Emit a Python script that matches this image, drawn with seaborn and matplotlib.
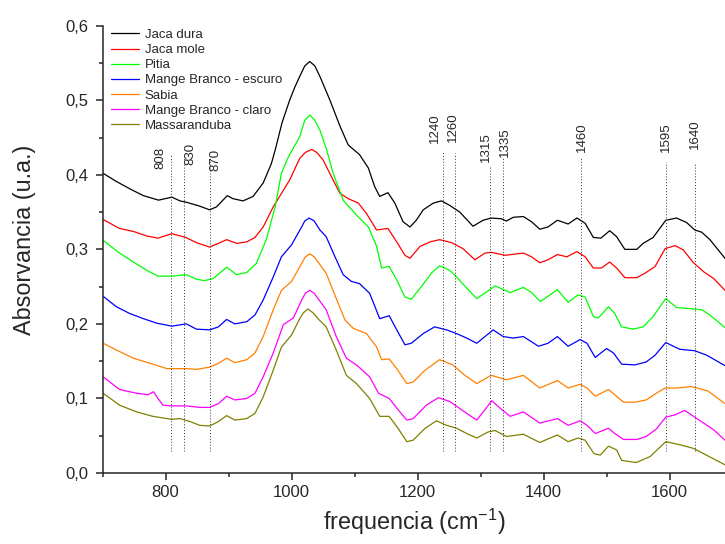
import numpy as np
import pandas as pd
import matplotlib
matplotlib.use("Agg")
import matplotlib.pyplot as plt
from matplotlib.ticker import MultipleLocator, FuncFormatter
import seaborn as sns

# espectros (numero de onda em cm-1, absorvancia)
jaca_dura_x = [701, 722, 746, 765, 789, 810, 823, 834, 854, 870, 881, 898, 907, 923, 939, 955, 968, 974,
               985, 997, 1005, 1013, 1021, 1029, 1037, 1045, 1061, 1077, 1090, 1108, 1122, 1132, 1140, 1153,
               1164, 1177, 1188, 1198, 1209, 1225, 1238, 1251, 1267, 1288, 1304, 1317, 1333, 1341, 1352,
               1368, 1381, 1394, 1407, 1422, 1439, 1453, 1466, 1479, 1491, 1505, 1516, 1529, 1548, 1558,
               1574, 1594, 1611, 1627, 1640, 1651, 1664, 1688]
jaca_dura_y = [0.402, 0.391, 0.380, 0.372, 0.366, 0.370, 0.365, 0.363, 0.358, 0.353, 0.357, 0.372, 0.368,
               0.365, 0.371, 0.389, 0.415, 0.433, 0.470, 0.500, 0.517, 0.532, 0.546, 0.552, 0.546, 0.532,
               0.500, 0.465, 0.440, 0.427, 0.409, 0.384, 0.371, 0.376, 0.362, 0.337, 0.330, 0.339, 0.353,
               0.362, 0.365, 0.359, 0.350, 0.331, 0.339, 0.342, 0.341, 0.338, 0.343, 0.344, 0.337, 0.327,
               0.330, 0.339, 0.334, 0.342, 0.335, 0.316, 0.315, 0.325, 0.317, 0.300, 0.300, 0.308, 0.316,
               0.339, 0.342, 0.336, 0.326, 0.323, 0.313, 0.288]

jaca_mole_x = [701, 727, 749, 770, 788, 810, 832, 849, 870, 884, 897, 913, 929, 942, 955, 971, 997,
               1013, 1022, 1032, 1040, 1050, 1066, 1077, 1090, 1106, 1119, 1135, 1153, 1167, 1180, 1188,
               1204, 1220, 1235, 1254, 1272, 1291, 1307, 1317, 1339, 1368, 1381, 1394, 1407, 1422, 1437,
               1453, 1466, 1479, 1492, 1505, 1516, 1529, 1548, 1561, 1577, 1593, 1609, 1622, 1638, 1654,
               1670, 1688]
jaca_mole_y = [0.340, 0.328, 0.324, 0.318, 0.315, 0.321, 0.316, 0.309, 0.303, 0.308, 0.313, 0.308, 0.310,
               0.316, 0.330, 0.357, 0.393, 0.422, 0.430, 0.434, 0.430, 0.420, 0.393, 0.375, 0.368, 0.362,
               0.348, 0.326, 0.328, 0.310, 0.292, 0.288, 0.304, 0.310, 0.313, 0.309, 0.301, 0.286, 0.295,
               0.296, 0.292, 0.295, 0.290, 0.282, 0.286, 0.293, 0.290, 0.297, 0.290, 0.275, 0.275, 0.283,
               0.275, 0.262, 0.262, 0.268, 0.277, 0.301, 0.305, 0.299, 0.282, 0.270, 0.261, 0.245]

pitia_x = [701, 727, 749, 770, 788, 810, 833, 849, 862, 876, 897, 913, 929, 944, 960, 974, 984, 995,
           1013, 1021, 1029, 1037, 1045, 1056, 1066, 1082, 1103, 1122, 1135, 1143, 1155, 1167, 1180, 1190,
           1206, 1222, 1235, 1251, 1262, 1278, 1294, 1310, 1323, 1347, 1368, 1381, 1395, 1407, 1422,
           1439, 1455, 1466, 1479, 1487, 1503, 1513, 1524, 1542, 1558, 1574, 1594, 1611, 1638, 1651,
           1664, 1688]
pitia_y = [0.312, 0.295, 0.283, 0.272, 0.264, 0.264, 0.266, 0.260, 0.258, 0.261, 0.276, 0.266, 0.269,
           0.281, 0.313, 0.357, 0.402, 0.424, 0.451, 0.473, 0.480, 0.473, 0.460, 0.433, 0.402, 0.366,
           0.346, 0.330, 0.304, 0.275, 0.277, 0.259, 0.236, 0.233, 0.250, 0.268, 0.278, 0.272, 0.263,
           0.248, 0.234, 0.243, 0.251, 0.242, 0.249, 0.242, 0.230, 0.237, 0.246, 0.229, 0.239, 0.236,
           0.210, 0.208, 0.223, 0.214, 0.196, 0.193, 0.196, 0.210, 0.234, 0.222, 0.220, 0.219, 0.212,
           0.195]

mb_escuro_x = [701, 722, 743, 765, 786, 810, 833, 849, 870, 884, 897, 910, 929, 942, 955, 971, 984, 1000,
               1016, 1021, 1028, 1036, 1045, 1055, 1069, 1082, 1095, 1108, 1124, 1140, 1155, 1167, 1180,
               1190, 1209, 1227, 1246, 1262, 1278, 1294, 1320, 1336, 1352, 1368, 1392, 1407, 1422, 1439,
               1458, 1469, 1482, 1500, 1511, 1524, 1545, 1563, 1577, 1594, 1616, 1640, 1659, 1688]
mb_escuro_y = [0.237, 0.223, 0.214, 0.207, 0.201, 0.197, 0.200, 0.193, 0.192, 0.196, 0.206, 0.200, 0.203,
               0.212, 0.232, 0.263, 0.290, 0.306, 0.330, 0.338, 0.342, 0.338, 0.326, 0.317, 0.290, 0.266,
               0.257, 0.254, 0.241, 0.207, 0.211, 0.192, 0.172, 0.174, 0.187, 0.196, 0.192, 0.187, 0.181,
               0.174, 0.192, 0.183, 0.181, 0.183, 0.170, 0.174, 0.183, 0.170, 0.179, 0.174, 0.155, 0.167,
               0.161, 0.146, 0.145, 0.149, 0.158, 0.175, 0.166, 0.164, 0.158, 0.144]

sabia_x = [701, 722, 749, 780, 802, 833, 849, 870, 884, 897, 910, 929, 942, 955, 971, 984, 1000, 1016,
           1022, 1029, 1036, 1042, 1055, 1071, 1085, 1098, 1119, 1135, 1143, 1155, 1167, 1183, 1193,
           1212, 1235, 1256, 1275, 1294, 1317, 1341, 1368, 1394, 1422, 1439, 1458, 1469, 1482, 1503,
           1513, 1527, 1545, 1563, 1579, 1593, 1611, 1635, 1661, 1688]
sabia_y = [0.174, 0.165, 0.154, 0.146, 0.140, 0.140, 0.139, 0.142, 0.147, 0.154, 0.148, 0.152, 0.161,
           0.183, 0.219, 0.245, 0.257, 0.281, 0.290, 0.294, 0.290, 0.283, 0.268, 0.234, 0.205, 0.194,
           0.187, 0.169, 0.152, 0.153, 0.140, 0.120, 0.122, 0.138, 0.152, 0.145, 0.131, 0.120, 0.131,
           0.125, 0.131, 0.114, 0.124, 0.114, 0.119, 0.114, 0.103, 0.112, 0.105, 0.095, 0.095, 0.098,
           0.107, 0.114, 0.114, 0.116, 0.110, 0.093]

mb_claro_x = [701, 727, 754, 772, 781, 788, 796, 810, 833, 854, 870, 884, 897, 910, 929, 942, 955, 971,
              987, 1003, 1016, 1022, 1029, 1036, 1042, 1055, 1071, 1087, 1103, 1124, 1138, 1155, 1169,
              1183, 1193, 1214, 1233, 1251, 1278, 1294, 1307, 1318, 1331, 1347, 1368, 1394, 1422, 1439,
              1458, 1469, 1482, 1503, 1513, 1527, 1548, 1563, 1579, 1594, 1609, 1624, 1638, 1654, 1670,
              1688]
mb_claro_y = [0.129, 0.112, 0.107, 0.105, 0.109, 0.100, 0.091, 0.090, 0.090, 0.088, 0.088, 0.093, 0.103,
              0.098, 0.100, 0.107, 0.129, 0.161, 0.199, 0.208, 0.232, 0.241, 0.245, 0.241, 0.234, 0.219,
              0.183, 0.154, 0.145, 0.129, 0.107, 0.100, 0.085, 0.071, 0.073, 0.091, 0.101, 0.096, 0.080,
              0.071, 0.085, 0.097, 0.087, 0.076, 0.082, 0.067, 0.073, 0.064, 0.070, 0.064, 0.053, 0.060,
              0.053, 0.045, 0.045, 0.049, 0.059, 0.075, 0.078, 0.084, 0.076, 0.067, 0.058, 0.044]

massaranduba_x = [701, 727, 754, 780, 810, 823, 839, 854, 870, 884, 897, 910, 929, 942, 955, 971, 984,
                  1000, 1013, 1019, 1026, 1034, 1042, 1055, 1071, 1087, 1103, 1124, 1140, 1155, 1169,
                  1183, 1193, 1212, 1230, 1246, 1262, 1278, 1294, 1312, 1323, 1341, 1368, 1394, 1422,
                  1439, 1455, 1466, 1480, 1490, 1503, 1516, 1524, 1547, 1569, 1594, 1616, 1638, 1663, 1688]
massaranduba_y = [0.107, 0.091, 0.082, 0.076, 0.072, 0.073, 0.069, 0.064, 0.063, 0.069, 0.077, 0.071,
                  0.073, 0.080, 0.102, 0.138, 0.169, 0.185, 0.207, 0.215, 0.220, 0.215, 0.207, 0.196,
                  0.165, 0.131, 0.120, 0.100, 0.076, 0.076, 0.060, 0.042, 0.044, 0.060, 0.070, 0.064,
                  0.060, 0.053, 0.047, 0.055, 0.057, 0.049, 0.052, 0.041, 0.051, 0.042, 0.047, 0.044,
                  0.026, 0.024, 0.036, 0.031, 0.017, 0.014, 0.022, 0.042, 0.038, 0.033, 0.022, 0.011]

amostras = ["Jaca dura", "Jaca mole", "Pitia", "Mange Branco - escuro", "Sabia",
            "Mange Branco - claro", "Massaranduba"]
cores = ["#000000", "#FF0000", "#00FF00", "#0000FF", "#FF8000", "#FF00FF", "#808000"]

# bandas marcadas com linha pontilhada
bandas = [808, 830, 870, 1240, 1260, 1315, 1335, 1460, 1595, 1640]

series = [(jaca_dura_x, jaca_dura_y), (jaca_mole_x, jaca_mole_y), (pitia_x, pitia_y),
          (mb_escuro_x, mb_escuro_y), (sabia_x, sabia_y), (mb_claro_x, mb_claro_y),
          (massaranduba_x, massaranduba_y)]
partes = []
for nome, (xs, ys) in zip(amostras, series):
    partes.append(pd.DataFrame({"freq": xs, "abs": ys, "amostra": nome}))
df = pd.concat(partes, ignore_index=True)

sns.set_style("ticks")
plt.rcParams["font.family"] = ["Liberation Sans", "DejaVu Sans"]
plt.rcParams["mathtext.default"] = "regular"

fig = plt.figure(figsize=(7.25, 5.44), dpi=100)
ax = fig.add_axes([0.1414, 0.1305, 0.8586, 0.8223])

sns.lineplot(data=df, x="freq", y="abs", hue="amostra", hue_order=amostras,
             palette=cores, sort=False, estimator=None, lw=0.9, ax=ax)

# posicao dos rotulos e topo das linhas (layout)
rot_dx = [-16, 9, 9.5, -12, -3.7, -6, 4, 1, 0, 0]
rot_base = [0.408, 0.413, 0.405, 0.443, 0.444, 0.417, 0.424, 0.430, 0.430, 0.435]
linha_topo = [0.428, 0.427, 0.423, 0.431, 0.429, 0.410, 0.423, 0.424, 0.417, 0.416]
for b, dx, yb, yt in zip(bandas, rot_dx, rot_base, linha_topo):
    ax.vlines(b, 0.029, yt, colors="#333333", linestyles=(0, (1, 2)), lw=0.7)
    ax.text(b + dx, yb, str(b), rotation=90, ha="center", va="bottom", fontsize=9.5)

ax.set_xlim(700, 1688)
ax.set_ylim(0, 0.6)
ax.xaxis.set_major_locator(MultipleLocator(200))
ax.xaxis.set_minor_locator(MultipleLocator(100))
ax.yaxis.set_major_locator(MultipleLocator(0.1))
ax.yaxis.set_minor_locator(MultipleLocator(0.05))
ax.yaxis.set_major_formatter(FuncFormatter(lambda v, p: f"{v:.1f}".replace(".", ",")))
ax.tick_params(which="major", length=5, width=1.1, labelsize=12, direction="out")
ax.tick_params(axis="x", which="major", pad=3.5)
ax.tick_params(axis="y", which="major", pad=5)
ax.tick_params(which="minor", length=3, width=1.1, direction="out")
for s in ["left", "bottom"]:
    ax.spines[s].set_linewidth(1.1)
sns.despine(ax=ax)

ax.set_xlabel("frequencia (cm$^{-1}$)", fontsize=16.8)
ax.set_ylabel("Absorvancia (u.a.)", fontsize=16.8)
ax.xaxis.set_label_coords(0.5, -0.076)
ax.yaxis.set_label_coords(-0.107, 0.521)

h, l = ax.get_legend_handles_labels()
ax.legend(h, l, loc="upper left", bbox_to_anchor=(0.0137, 0.993), frameon=False,
          fontsize=9.5, handlelength=2.15, handletextpad=0.4, labelspacing=0.22,
          borderpad=0, borderaxespad=0)

fig.savefig("out.png", dpi=100)
